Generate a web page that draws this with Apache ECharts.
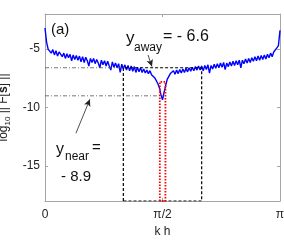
<!DOCTYPE html>
<html><head><meta charset="utf-8">
<script src="https://cdn.jsdelivr.net/npm/echarts@6/dist/echarts.min.js"></script>
<style>html,body{margin:0;padding:0;background:#fff}#c{width:284px;height:240px}</style>
</head><body><div id="c"></div>
<script>
// ---- data ----
const kMin = 0, kMax = Math.PI;
const yMin = -18, yMax = -2;
const xTickValues = [0, Math.PI / 2, Math.PI];
const xTickLabels = ['0', 'π/2', 'π'];
const yTickValues = [-15, -10, -5];
// log10 ||F[s]|| sampled on an even grid of k h from 0 to pi (151 samples)
const normValues = [
  -3.2, -4.4, -5.0, -4.9, -5.35, -5.05, -5.5, -5.15, -5.6, -5.25,
  -5.3, -5.65, -5.35, -5.8, -5.4, -5.75, -5.45, -6.0, -5.5, -5.9,
  -5.55, -5.95, -5.6, -6.1, -5.65, -6.15, -5.7, -6.0, -6.45, -5.8,
  -6.15, -5.8, -6.25, -5.9, -6.2, -6.6, -5.95, -6.35, -6.0, -6.45,
  -6.05, -6.45, -6.8, -6.1, -6.55, -6.2, -6.6, -6.25, -7.0, -6.3,
  -6.7, -6.35, -6.8, -6.4, -6.85, -6.45, -6.9, -6.5, -7.0, -6.55,
  -6.95, -6.6, -7.0, -6.7, -7.05, -6.8, -7.1, -6.85, -7.2, -7.15,
  -7.45, -7.5, -7.95, -8.3, -8.9, -9.35, -8.7, -8.15, -7.6, -7.5,
  -7.1, -7.25, -6.85, -7.15, -6.8, -7.1, -6.75, -7.05, -6.7, -7.0,
  -6.65, -6.95, -6.6, -6.9, -6.55, -6.85, -6.5, -6.8, -6.45, -6.8,
  -6.45, -6.85, -6.4, -6.75, -6.35, -7.05, -6.4, -6.7, -6.3, -6.65,
  -6.25, -6.6, -6.2, -6.55, -6.15, -6.75, -6.2, -6.5, -6.1, -6.45,
  -6.05, -6.4, -6.0, -6.35, -5.95, -6.6, -5.95, -6.25, -5.85, -6.2,
  -5.8, -6.15, -5.75, -6.05, -5.65, -6.0, -5.6, -5.95, -5.55, -5.9,
  -5.5, -5.85, -5.45, -5.75, -5.35, -5.65, -5.25, -5.35, -4.9, -4.7, -3.4
];
const awayLevel = -6.6;
const nearLevel = -9.0;
const boxK = [Math.PI / 3, 2 * Math.PI / 3];
const redK = [1.535, 1.61];
const redTop = -7.8;
const arrowAway = [[1.377, -5.5], [1.43, -6.5]];
const arrowNear = [[0.414, -12.2], [0.60, -9.3]];

// ---- build ----
const n = normValues.length;
const curve = normValues.map((v, i) => [kMin + (kMax - kMin) * i / (n - 1), v]);
const FONT = 'Liberation Sans, Arial, sans-serif';
const frame = '#a6a6a6';
const tickFmt = v => {
  const idx = xTickValues.findIndex(t => Math.abs(t - v) < 1e-6);
  return idx >= 0 ? xTickLabels[idx] : '';
};
function xAx(pos, show) {
  return {
    type: 'value', min: kMin, max: kMax, position: pos,
    axisLine: { show: true, onZero: false, lineStyle: { color: frame, width: 1 } },
    axisTick: { show: true, inside: true, length: 3, customValues: xTickValues, lineStyle: { color: frame } },
    axisLabel: { show: show, customValues: xTickValues, formatter: tickFmt, margin: 8, fontFamily: FONT, fontSize: 12, color: '#222' },
    splitLine: { show: false },
    name: show ? 'k h' : '', nameLocation: 'middle', nameGap: 24,
    nameTextStyle: { fontFamily: FONT, fontSize: 12, color: '#222' }
  };
}
function yAx(pos, show) {
  return {
    type: 'value', min: yMin, max: yMax, position: pos,
    axisLine: { show: true, onZero: false, lineStyle: { color: frame, width: 1 } },
    axisTick: { show: true, inside: true, length: 3, customValues: yTickValues, lineStyle: { color: frame } },
    axisLabel: { show: show, customValues: yTickValues, margin: 5, fontFamily: FONT, fontSize: 12, color: '#222' },
    splitLine: { show: false },
    name: show ? '{t|log}{s|10}{t| || F[}{b|s}{t|] ||}' : '',
    nameLocation: 'middle', nameGap: 30, nameRotate: 90,
    nameTextStyle: {
      fontFamily: FONT, fontSize: 12, color: '#222',
      rich: {
        t: { fontFamily: FONT, fontSize: 12, color: '#222', lineHeight: 16, verticalAlign: 'middle' },
        s: { fontFamily: FONT, fontSize: 8, color: '#222', lineHeight: 16, verticalAlign: 'bottom' },
        b: { fontFamily: FONT, fontSize: 12, fontWeight: 'bold', color: '#222', lineHeight: 16, verticalAlign: 'middle' }
      }
    }
  };
}
function seg(data, color, type, width) {
  return { type: 'line', data: data, symbol: 'none', silent: true, animation: false, z: 3,
    lineStyle: { color: color, type: type, width: width } };
}
const series = [
  { type: 'line', data: curve, symbol: 'none', animation: false, z: 2,
    lineStyle: { color: '#0000ff', width: 1.4 } },
  seg([[kMin, awayLevel], [boxK[0], awayLevel]], '#555', [4, 2, 1, 2], 0.8),
  seg([[kMin, nearLevel], [Math.PI / 2, nearLevel]], '#555', [4, 2, 1, 2], 0.8),
  seg([[boxK[0], yMin], [boxK[0], awayLevel], [boxK[1], awayLevel], [boxK[1], yMin], [boxK[0], yMin]], '#000', [3, 2], 1.2),
  seg([[redK[0], yMin], [redK[0], redTop], [redK[1], redTop], [redK[1], yMin], [redK[0], yMin]], '#ff0000', [1.5, 1.5], 1.8),
  { type: 'line', data: [], symbol: 'none', silent: true, animation: false,
    markLine: { silent: true, animation: false, symbol: ['none', 'arrow'], symbolSize: [5, 7],
      label: { show: false }, lineStyle: { color: '#222', type: 'solid', width: 0.8 },
      data: [
        [{ coord: arrowAway[0] }, { coord: arrowAway[1] }],
        [{ coord: arrowNear[0] }, { coord: arrowNear[1] }]
      ] } }
];
function txt(x, y, s, size) {
  return { type: 'text', x: x, y: y, silent: true,
    style: { text: s, font: size + 'px ' + FONT, fill: '#111', align: 'left', verticalAlign: 'top' } };
}
const chart = echarts.init(document.getElementById('c'), null, { renderer: 'canvas' });
chart.setOption({
  backgroundColor: '#fff',
  animation: false,
  grid: { left: 45, right: 4, top: 14, bottom: 39, containLabel: false, outerBoundsMode: 'none' },
  xAxis: [xAx('bottom', true), xAx('top', false)],
  yAxis: [yAx('left', true), yAx('right', false)],
  series: series,
  graphic: [
    txt(51, 22, '(a)', 15),
    txt(126, 30, 'y', 17),
    txt(134, 42, 'away', 12),
    txt(163, 29, '= - 6.6', 16),
    txt(56, 142, 'y', 16),
    txt(65, 151, 'near', 12),
    txt(92, 140, '=', 15),
    txt(61, 169, '- 8.9', 15)
  ]
});
</script></body></html>
